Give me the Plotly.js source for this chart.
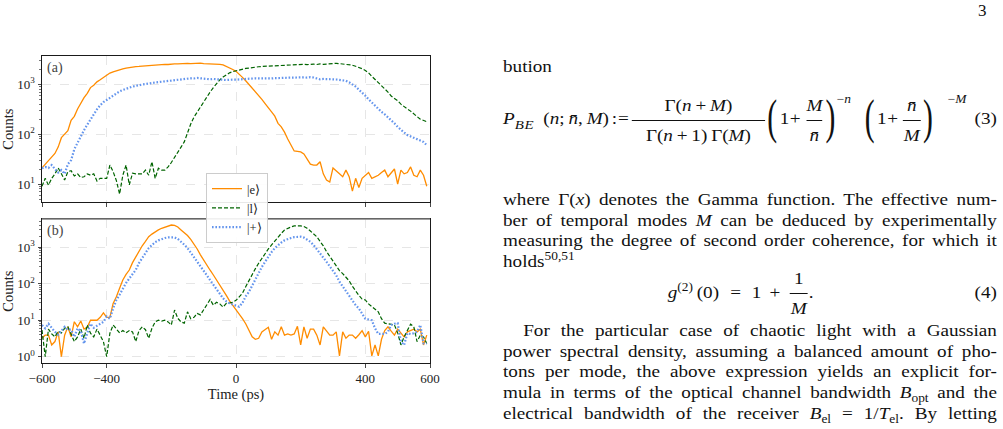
<!DOCTYPE html>
<html>
<head>
<meta charset="utf-8">
<script src="https://cdn.plot.ly/plotly-3.0.1.min.js"></script>
<style>
html,body{margin:0;padding:0;background:#fff;width:1003px;height:429px;overflow:hidden}
#chart{position:absolute;left:0;top:0;width:480px;height:429px}
#chart text{font-family:'Liberation Serif','Times New Roman',serif !important}
#pageno{position:absolute;left:978px;top:1px;font-family:'Liberation Serif','Times New Roman',serif;font-size:17px;color:#111}
#col{position:absolute;left:503px;top:0;width:441px;height:429px;transform:scaleX(1.12);transform-origin:0 0;
  font-family:'Liberation Serif','Times New Roman',serif;font-size:17.1px;line-height:20.5px;color:#111}
.ln{position:absolute;left:0;width:441px;text-align:justify;text-align-last:justify}
.ln.last{text-align-last:left}
.ln.ind{text-indent:18px}
i{font-style:italic}
sup,sub{font-size:70%;line-height:0}
sup{vertical-align:0.55em}
sub{vertical-align:-0.3em}
.eq{position:absolute;left:0;width:441px;white-space:nowrap}
.eq > span{position:absolute;line-height:20px}
.fr{text-align:center}
.fr .num{display:block;border-bottom:1px solid #111;line-height:20px;padding-bottom:4px}
.fr .den{display:block;line-height:20px;padding-top:5px}
.bp{font-size:48px;line-height:48px !important;transform:scaleX(0.55);transform-origin:0 50%}
.ex{font-size:12px;line-height:12px !important}
.b{margin:0 0.2em}
</style>
</head>
<body>
<div id="chart"></div>
<div id="pageno">3</div>
<div id="col">
  <div class="ln last" style="top:57px">bution</div>
  <div class="eq" style="top:93px;height:56px">
    <span style="left:0;top:16px"><i>P</i><sub style="vertical-align:-0.4em;font-size:78%;letter-spacing:0.5px"><i>BE</i></sub></span>
    <span style="left:36px;top:16px">(<i>n</i>;&#8201;<i>n&#772;</i>,&#8201;<i>M</i>)</span>
    <span style="left:97px;top:16px;letter-spacing:1px">:=</span>
    <span class="fr" style="left:115px;top:3px;width:119px"><span class="num">&Gamma;(<i>n</i><span class="b">+</span><i>M</i>)</span><span class="den">&Gamma;(<i>n</i><span class="b">+</span>1)&#8201;&Gamma;(<i>M</i>)</span></span>
    <span class="bp" style="left:236px;top:0px">(</span>
    <span style="left:247px;top:16px">1</span>
    <span style="left:256px;top:16px">+</span>
    <span class="fr" style="left:271px;top:3px;width:14px"><span class="num"><i>M</i></span><span class="den"><i>n&#772;</i></span></span>
    <span class="bp" style="left:288px;top:0px">)</span>
    <span class="ex" style="left:298px;top:0px">&minus;<i>n</i></span>
    <span class="bp" style="left:323px;top:0px">(</span>
    <span style="left:334px;top:16px">1</span>
    <span style="left:343px;top:16px">+</span>
    <span class="fr" style="left:357px;top:3px;width:16px"><span class="num"><i>n&#772;</i></span><span class="den"><i>M</i></span></span>
    <span class="bp" style="left:375px;top:0px">)</span>
    <span class="ex" style="left:397px;top:0px">&minus;<i>M</i></span>
    <span style="right:0;top:16px">(3)</span>
  </div>
  <div class="ln" style="top:190px">where &Gamma;(<i>x</i>) denotes the Gamma function. The effective num-</div>
  <div class="ln" style="top:210.5px">ber of temporal modes <i>M</i> can be deduced by experimentally</div>
  <div class="ln" style="top:231px">measuring the degree of second order coherence, for which it</div>
  <div class="ln last" style="top:251.5px">holds<sup>50,51</sup></div>
  <div class="eq" style="top:270px;height:46px">
    <span style="left:147px;top:13px"><i>g</i><sup>(2)</sup>&#8201;(0)</span>
    <span style="left:203px;top:13px">=</span>
    <span style="left:222px;top:13px">1</span>
    <span style="left:238px;top:13px">+</span>
    <span class="fr" style="left:256px;top:-1px;width:16px"><span class="num">1</span><span class="den"><i>M</i></span></span>
    <span style="left:273px;top:13px">.</span>
    <span style="right:0;top:13px">(4)</span>
  </div>
  <div class="ln ind" style="top:321px">For the particular case of chaotic light with a Gaussian</div>
  <div class="ln" style="top:341.5px">power spectral density, assuming a balanced amount of pho-</div>
  <div class="ln" style="top:362px">tons per mode, the above expression yields an explicit for-</div>
  <div class="ln" style="top:382.5px">mula in terms of the optical channel bandwidth <i>B</i><sub>opt</sub> and the</div>
  <div class="ln" style="top:404px">electrical bandwidth of the receiver <i>B</i><sub>el</sub> = 1/<i>T</i><sub>el</sub>. By letting</div>
</div>
<script>
// Time bins (ps)
const timePs = [
  -600,-590,-580,-570,-560,-550,-540,-530,-520,-510,
  -500,-490,-480,-470,-460,-450,-440,-430,-420,-410,
  -400,-390,-380,-370,-360,-350,-340,-330,-320,-310,
  -300,-290,-280,-270,-260,-250,-240,-230,-220,-210,
  -200,-190,-180,-170,-160,-150,-140,-130,-120,-110,
  -100,-90,-80,-70,-60,-50,-40,-30,-20,-10,
  0,10,20,30,40,50,60,70,80,90,
  100,110,120,130,140,150,160,170,180,190,
  200,210,220,230,240,250,260,270,280,290,
  300,310,320,330,340,350,360,370,380,390,
  400,410,420,430,440,450,460,470,480,490,
  500,510,520,530,540,550,560,570,580,590
];

// (a) counts per bin
const countsEarlyA = [
  21,25,30,35,41,55,85,100,118,190,
  228,320,430,540,660,860,960,1120,1230,1380,
  1560,1680,1780,1880,1960,2040,2110,2180,2220,2260,
  2280,2310,2360,2420,2380,2450,2480,2500,2520,2500,
  2550,2580,2560,2600,2580,2620,2600,2640,2620,2650,
  2600,2580,2620,2600,2560,2520,2450,2300,2150,1980,
  1820,1600,1380,1180,1000,850,720,600,500,410,
  330,280,230,165,140,110,80,60,46,45,
  44,40,32,25,24,24,28,16,12,11,
  21,18,16,14,19,14,7.2,13,8.5,13,
  15,17,13,14,15,17,19,14,17,20,
  10,19,16,17,22,15,14,19,15,9
];
const countsLateA = [
  9,13,9.5,13,16,21,16,12,17.7,18.5,
  14.5,16,13.5,14,16,15,16,11.5,13,13,
  13,24,17.7,11.7,6.3,15,24,9.6,16.5,16,
  16,16,19,15,28,13,20.7,19,19,22,
  27,35,45,55,70,110,160,220,280,356,
  450,560,700,860,1050,1230,1400,1560,1700,1800,
  1880,1950,2000,2080,2120,2180,2200,2250,2280,2300,
  2320,2340,2350,2380,2400,2420,2440,2450,2480,2460,
  2500,2520,2480,2520,2540,2500,2560,2520,2560,2600,
  2620,2640,2600,2560,2540,2480,2420,2300,2200,2060,
  1900,1700,1450,1250,1100,970,840,700,580,520,
  470,400,350,320,290,250,225,200,188,178
];
const countsPlusA = [
  20.6,22,21,24,20,17,19,16,25,30,
  50,68,90,120,155,200,250,315,380,440,
  484,540,600,660,720,770,820,860,900,930,
  968,990,1010,1050,1060,1090,1110,1130,1150,1170,
  1200,1210,1230,1250,1280,1300,1320,1310,1340,1320,
  1290,1270,1260,1280,1250,1240,1230,1220,1250,1240,
  1240,1260,1250,1280,1290,1300,1320,1310,1300,1320,
  1320,1310,1330,1320,1340,1350,1360,1340,1380,1370,
  1360,1380,1360,1390,1370,1300,1260,1280,1260,1270,
  1260,1250,1240,1200,1180,1100,1000,900,780,690,
  590,500,430,380,330,280,250,220,190,165,
  140,120,108,96,90,86,82,76,70,60
];

// (b) counts per bin
const countsEarlyB = [
  3.2,3.9,3.9,2.1,2.6,4.8,1,3.9,6.6,3.5,
  9.1,6.6,9.5,5.7,6.5,10,10,10,12,16,
  12,12,29,44,75,127,180,238,380,552,
  800,1100,1450,1950,2300,2700,3000,3320,3600,3850,
  4080,4000,3600,3000,2550,2100,1650,1250,900,620,
  440,320,235,174,128,94,68,48,34,26,
  19,15.4,11,8,5.5,3.5,3,3.2,4.8,5.5,
  6.4,3,4.8,3.9,6.6,3.9,4.2,3.9,4.2,6.8,
  2.1,6.6,3.2,5.7,5.7,3.9,2.1,6.6,5,3.9,
  3.9,4.8,1.05,4.8,3.2,3.9,3.9,3.2,4,5.2,
  3.5,5,1.05,2.1,1.05,3,5.2,6.6,5,3.9,
  5.7,4.5,3.5,4.8,5.2,5.7,4.8,5.7,2.1,3.9
];
const countsLateB = [
  5.4,1,5.7,4.2,3.5,5,4.5,6,6.6,3.9,
  2.6,3.5,5.7,3.2,7.4,4.4,3.5,5.7,3.9,2.6,
  1,4.4,7.4,5.7,4.5,5.2,4.5,5.2,4.8,2.6,
  5.2,6.6,5.5,3.2,6,9,10,9.5,10,9,
  7.4,19,11.3,9,8.3,17,11,12,15.4,14,
  19,26,37,26,31,28,23,29,30,31,
  35,44,55,83,125,174,260,364,500,684,
  900,1160,1500,1950,2400,2980,3320,3600,3850,3900,
  3850,3700,3320,2800,2300,1950,1450,1100,760,560,
  420,294,230,190,156,120,85,62,48,38,
  36,28,24,20,17,11,8.3,8,7.6,7.4,
  4.5,2.1,3.5,5,7.8,6.6,2.6,3.9,3.5,2.3
];
const countsPlusB = [
  7.4,6,8,6,4.8,4,5,6.6,5.5,5.5,
  3.5,6,5,2.3,4.4,8,6.2,7,8,9,
  12.6,11,21,36,50,75,105,140,180,240,
  370,520,720,950,1150,1380,1550,1680,1800,1870,
  1900,1870,1700,1450,1180,950,720,530,400,310,
  230,170,125,95,70,55,40,33,29,27,
  25,23.5,30,45,60,90,140,200,290,400,
  560,740,950,1150,1350,1550,1700,1800,1900,1950,
  1950,1850,1650,1420,1150,900,684,520,400,300,
  230,170,114,85,62,49,36,26,21,15,
  11,10.5,10,6,4.2,4.2,4.2,4.8,7.4,8,
  8.3,2.6,2.1,4.4,4.2,4.4,4.8,7.4,2.3,2.3
];

const stateNames = ['|e\u27E9', '|l\u27E9', '|+\u27E9'];
const panelLabels = ['(a)', '(b)'];

const xTickVals = [-600, -400, 0, 400, 600];
const xTickText = ['\u2212600', '\u2212400', '0', '400', '600'];
const yTickValsA = [10, 100, 1000];
const yTickTextA = ['10<sup>1</sup>', '10<sup>2</sup>', '10<sup>3</sup>'];
const yTickValsB = [1, 10, 100, 1000];
const yTickTextB = ['10<sup>0</sup>', '10<sup>1</sup>', '10<sup>2</sup>', '10<sup>3</sup>'];
const minorTickVals = [2,3,4,5,6,7,8,9,20,30,40,50,60,70,80,90,200,300,400,500,600,700,800,900,2000,3000,4000,5000];

const FONT = 'Liberation Serif';
const colors = ['#ff8c00', '#006400', '#6495ed'];
const lineStyles = [
  {color: colors[0], width: 1.3},
  {color: colors[1], width: 1.2, dash: '4px,2px'},
  {color: colors[2], width: 2.2, dash: '1.6px,1.8px'}
];

const seriesA = [countsEarlyA, countsLateA, countsPlusA];
const seriesB = [countsEarlyB, countsLateB, countsPlusB];

const traces = [];
seriesA.forEach((ys, i) => traces.push({
  x: timePs, y: ys, xaxis: 'x', yaxis: 'y', mode: 'lines', name: stateNames[i],
  legendgroup: 's' + i, line: lineStyles[i], hoverinfo: 'x+y'
}));
seriesB.forEach((ys, i) => traces.push({
  x: timePs, y: ys, xaxis: 'x2', yaxis: 'y2', mode: 'lines', name: stateNames[i],
  legendgroup: 's' + i, showlegend: false, line: lineStyles[i], hoverinfo: 'x+y'
}));

const W = 480, H = 429;
const xDom = [42 / W, 430 / W];
const domA = [1 - 202.3 / H, 1 - 56 / H];
const domB = [1 - 363.3 / H, 1 - 219 / H];

const axisBase = {
  showline: true, linecolor: '#1a1a1a', linewidth: 1, mirror: true,
  ticks: 'outside', ticklen: 3.5, tickwidth: 0.8, tickcolor: '#1a1a1a',
  showgrid: true, gridcolor: '#e0e0e0', gridwidth: 0.8, griddash: 'dash',
  zeroline: false, tickfont: {family: FONT, size: 13, color: '#222'}
};
const minorBase = {tickvals: minorTickVals, ticks: 'outside', ticklen: 2, tickwidth: 0.6, tickcolor: '#1a1a1a', showgrid: false};

const layout = {
  width: W, height: H,
  margin: {l: 0, r: 0, t: 0, b: 0},
  paper_bgcolor: '#fff', plot_bgcolor: '#fff',
  font: {family: FONT, color: '#222'},
  showlegend: true,
  legend: {
    x: 206 / W, y: 1 - 173 / H, xanchor: 'left', yanchor: 'top',
    bgcolor: 'rgba(255,255,255,0.9)', bordercolor: '#cccccc', borderwidth: 1,
    font: {family: FONT, size: 12.5, color: '#222'}, tracegroupgap: 0
  },
  xaxis: Object.assign({}, axisBase, {domain: xDom, range: [-600, 600], tickvals: xTickVals, ticktext: xTickText, showticklabels: false, anchor: 'y'}),
  xaxis2: Object.assign({}, axisBase, {domain: xDom, range: [-600, 600], tickvals: xTickVals, ticktext: xTickText, anchor: 'y2',
    title: {text: 'Time (ps)', font: {family: FONT, size: 14.5, color: '#222'}, standoff: 3}}),
  yaxis: Object.assign({}, axisBase, {type: 'log', domain: domA, range: [0.633, 3.568], tickvals: yTickValsA, ticktext: yTickTextA, anchor: 'x',
    minor: minorBase, title: {text: 'Counts', font: {family: FONT, size: 14.5, color: '#222'}, standoff: 3}}),
  yaxis2: Object.assign({}, axisBase, {type: 'log', domain: domB, range: [-0.181, 3.776], tickvals: yTickValsB, ticktext: yTickTextB, anchor: 'x2',
    minor: minorBase, title: {text: 'Counts', font: {family: FONT, size: 14.5, color: '#222'}, standoff: 3}}),
  annotations: [
    {text: panelLabels[0], xref: 'x domain', yref: 'y domain', x: 0.008, y: 0.985, xanchor: 'left', yanchor: 'top', showarrow: false,
     font: {family: FONT, size: 14, color: '#444'}},
    {text: panelLabels[1], xref: 'x2 domain', yref: 'y2 domain', x: 0.008, y: 0.985, xanchor: 'left', yanchor: 'top', showarrow: false,
     font: {family: FONT, size: 14, color: '#444'}}
  ],
  shapes: [
    {type: 'line', xref: 'x2 domain', yref: 'y2 domain', x0: 0, x1: 1, y0: 1, y1: 1, line: {color: '#808080', width: 1.6}, layer: 'above'}
  ]
};

Plotly.newPlot('chart', traces, layout, {staticPlot: true, displayModeBar: false});
</script>
</body>
</html>
